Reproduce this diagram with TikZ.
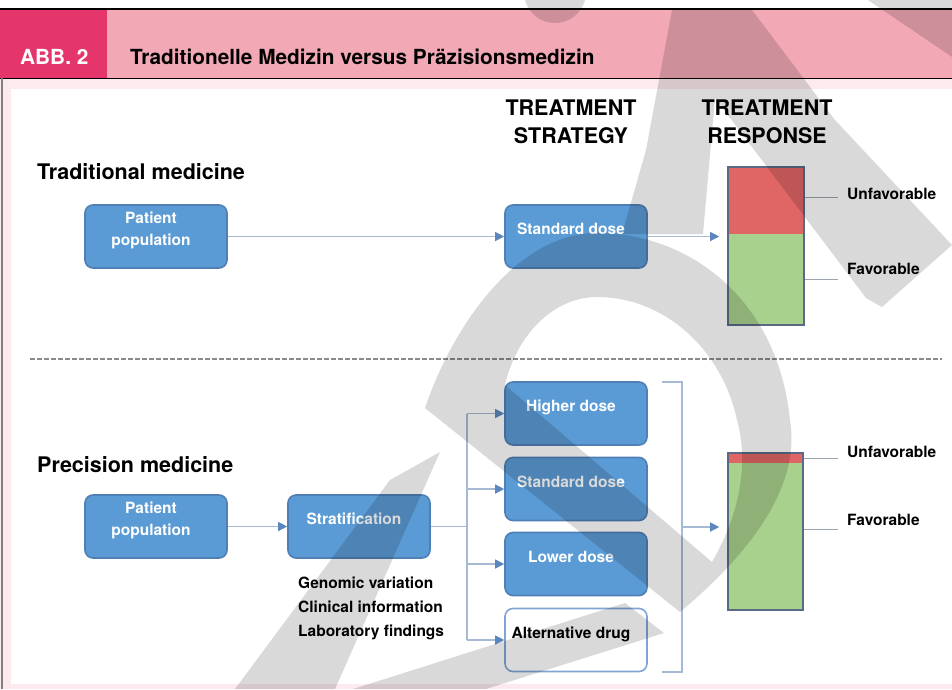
\documentclass[tikz,border=0pt]{standalone}
\usepackage{fontspec}
\setmainfont{TeX Gyre Heros}
\usepackage{tikz}
\usetikzlibrary{arrows.meta}
\usetikzlibrary{positioning}

\definecolor{headpink}{HTML}{F2A9B5}
\definecolor{abbpink}{HTML}{E4366B}
\definecolor{bodypink}{HTML}{FCEAEE}
\definecolor{boxblue}{HTML}{5B9BD5}
\definecolor{boxedge}{HTML}{4F7FB5}
\definecolor{altedge}{HTML}{7FA5D5}
\definecolor{linkblue}{HTML}{A6BAD4}
\definecolor{tipblue}{HTML}{5B87BD}
\definecolor{badred}{HTML}{E06666}
\definecolor{goodgreen}{HTML}{A9D18E}
\definecolor{baredge}{HTML}{5A6A85}
\definecolor{tickgray}{HTML}{9AA3AE}
\definecolor{sepgray}{HTML}{8A8A8A}
\definecolor{framegray}{HTML}{808080}

% box text sits a bit high and left in the boxes
\newcommand{\liftup}[1]{\raisebox{6pt}[\height][\depth]{\kern-10pt\begin{tabular}{@{}c@{}}#1\end{tabular}}}

\begin{document}
\begin{tikzpicture}[x=1pt,y=-1pt,
    box node/.style={rectangle,rounded corners=8pt,draw=boxedge,fill=boxblue,line width=1.6pt,minimum width=142pt,minimum height=63pt,inner sep=0pt,text=white,font=\bfseries\fontsize{15.5}{22}\selectfont},
    white node/.style={box node,fill=white,draw=altedge,text=black},
    bar part/.style={rectangle,minimum width=76pt,inner sep=0pt},
    bar node/.style={rectangle,draw=baredge,line width=1.6pt,minimum width=76pt,inner sep=0pt},
    head text/.style={font=\bfseries\fontsize{20.8}{24}\selectfont,inner sep=0pt},
    big text/.style={font=\bfseries\fontsize{21.5}{28}\selectfont,inner sep=0pt},
    small text/.style={font=\bfseries\fontsize{15.5}{24}\selectfont,inner sep=0pt},
    link/.style={draw=linkblue,line width=1.2pt},
    arrow/.style={link,-{Triangle[length=9pt,width=9pt,color=tipblue]}},
    tick/.style={draw=tickgray,line width=1pt},
    sepline/.style={draw=sepgray,line width=1.8pt,dash pattern=on 5pt off 2pt},
    water/.style={fill=black,opacity=0.15}]
  \useasboundingbox (0,0) rectangle (952,689);

  % frame and header
  \fill[white] (0,0) rectangle (952,689);
  \fill[headpink] (0,9) rectangle (952,78);
  \fill[abbpink] (0,9) rectangle (107,78);
  \fill[bodypink] (0,78) rectangle (952,689);
  \fill[white] (11,89) rectangle (952,684);
  \draw[line width=1.5pt] (0,9) -- (952,9);
  \draw[line width=1pt] (0,78) -- (952,78);
  \draw[framegray,line width=2pt] (2,78) -- (2,689);
  \node[head text,text=white,anchor=base west] (abb) at (20,64) {ABB. 2};
  \node[head text,anchor=base west] (title) at (130,64) {Traditionelle Medizin versus Präzisionsmedizin};

  % column heads
  \node[big text,align=center,anchor=north] (strategy) at (571,99.5) {TREATMENT\\STRATEGY};
  \node[big text,align=center,anchor=north] (response) at (767,99.5) {TREATMENT\\RESPONSE};

  % traditional medicine
  \node[big text,anchor=base west] (trad) at (37,179) {Traditional medicine};
  \node[box node] (pop1) at (156,236.5) {\liftup{Patient\\population}};
  \node[box node] (dose1) at (576,236.5) {\liftup{Standard dose}};
  \node[bar part,fill=badred,minimum height=67pt] (bad1) at (766,200.5) {};
  \node[bar part,fill=goodgreen,minimum height=91pt] (good1) at (766,279.5) {};
  \node[bar node,minimum height=158pt] (resp1) at (766,246) {};
  \draw[arrow] (pop1) -- (dose1);
  \draw[arrow,shorten >=8pt] (dose1) -- (dose1 -| resp1.west);
  \coordinate (u1) at (838,197);
  \coordinate (f1) at (838,279);
  \draw[tick] (u1 -| resp1.east) -- (u1);
  \draw[tick] (f1 -| resp1.east) -- (f1);
  \node[small text,anchor=west] (unfav1) at (847,194) {Unfavorable};
  \node[small text,anchor=west] (fav1) at (847,269) {Favorable};

  % separator
  \coordinate (sepl) at (30,359);
  \coordinate (sepr) at (942,359);
  \draw[sepline] (sepl) -- (sepr);

  % precision medicine
  \node[big text,anchor=base west] (prec) at (37,472) {Precision medicine};
  \node[box node] (pop2) at (156,526.5) {\liftup{Patient\\population}};
  \node[box node] (strat) at (359,526.5) {\liftup{Stratification}};
  \node[small text,align=left,anchor=north west] (details) at (298,577) {Genomic variation\\Clinical information\\Laboratory findings};
  \node[box node] (higher) at (576,413.5) {\liftup{Higher dose}};
  \node[box node] (dose2) at (576,489) {\liftup{Standard dose}};
  \node[box node] (lower) at (576,564) {\liftup{Lower dose}};
  \node[white node] (alt) at (576,640) {\liftup{Alternative drug}};
  \node[bar part,fill=badred,minimum height=10pt,minimum width=75pt] (bad2) at (765.5,458) {};
  \node[bar part,fill=goodgreen,minimum height=147pt,minimum width=75pt] (good2) at (765.5,536.5) {};
  \node[bar node,minimum height=157pt,minimum width=75pt] (resp2) at (765.5,531.5) {};

  \draw[arrow] (pop2) -- (strat);
  \coordinate (split) at (467,526.5);
  \draw[link] (strat) -- (split);
  \draw[link] (split |- higher) -- (split |- alt);
  \foreach \n in {higher,dose2,lower,alt}
    \draw[arrow] (split |- \n) -- (\n);
  \coordinate (brtop) at (662,382);
  \coordinate (brbot) at (662,672);
  \coordinate (brk) at (682,527);
  \draw[link] (brtop) -- ++(20,0) |- (brbot);
  \draw[arrow,shorten >=8pt] (brk) -- (brk -| resp2.west);
  \coordinate (u2) at (838,458);
  \coordinate (f2) at (838,529);
  \draw[tick] (u2 -| resp2.east) -- (u2);
  \draw[tick] (f2 -| resp2.east) -- (f2);
  \node[small text,anchor=west] (unfav2) at (847,452) {Unfavorable};
  \node[small text,anchor=west] (fav2) at (847,520) {Favorable};

  % watermark
  \fill[water] (555,-8) circle (31);
  \fill[water] (868,0) -- (952,0) -- (952,57) -- cycle;
  \fill[water] (672,10) -- (752,10) -- (835,120) -- (952,245) -- (882,307) -- (866,298) -- (715,98) -- (703,234) -- (622,234) -- (646,150) -- cycle;
  \fill[water,even odd rule] (425,408) -- (680,612) .. controls (760,545) and (800,480) .. (790,420) .. controls (778,300) and (690,233) .. (597,233) .. controls (520,233) and (455,320) .. cycle
    (505,385) -- (712,562) .. controls (742,510) and (748,460) .. (737,420) .. controls (722,350) and (665,297) .. (597,297) .. controls (550,297) and (515,340) .. cycle;
  \fill[water] (390,480) -- (440,452) -- (335,689) -- (235,689) -- cycle;
  \fill[water] (353,689) -- (625,603) -- (664,633) -- (486,689) -- cycle;
\end{tikzpicture}
\end{document}
